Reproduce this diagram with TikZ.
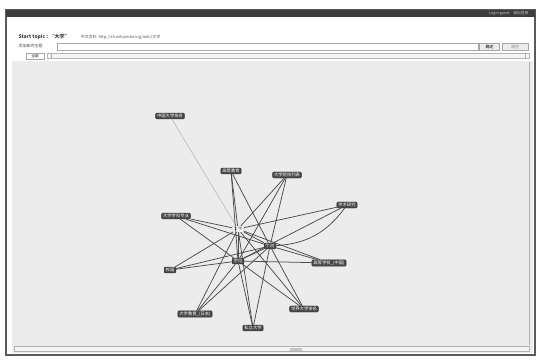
\documentclass[tikz,border=0pt]{standalone}
\usepackage{fontspec}
\setmainfont{Liberation Sans}
\newfontfamily\cjk{Noto Sans CJK SC}
\usetikzlibrary{positioning}

\definecolor{barra}{RGB}{62,62,62}
\definecolor{telaio}{RGB}{90,90,90}
\definecolor{sfondo}{RGB}{236,236,236}
\definecolor{nodo}{RGB}{70,70,70}
\definecolor{arco}{RGB}{75,75,75}

\begin{document}
\begin{tikzpicture}[x=1pt, y=-1pt, >=latex]
	% Stili comuni per i nodi del grafo
	\tikzset{
		topic/.style={
			draw=black!80,
			fill=nodo,
			text=white,
			rounded corners=1pt,
			inner xsep=1.5pt,
			inner ysep=1pt,
			font=\cjk\fontsize{4.3}{4.5}\selectfont
		},
		root/.style={
			topic,
			draw=gray!60,
			fill=white,
			text=black!70
		},
		link/.style={arco, line width=0.75pt},
		faint/.style={gray!60, line width=0.5pt},
		btn/.style={
			draw=gray!70,
			fill=gray!15,
			minimum height=7pt,
			inner sep=0pt,
			font=\cjk\fontsize{4}{4.5}\selectfont
		}
	}

	\useasboundingbox (0,0) rectangle (542,361);
	\fill[white] (0,0) rectangle (542,361);

	% Finestra e barra superiore
	\fill[sfondo] (12,61) rectangle (533,353);
	\draw[telaio, line width=1.2pt] (6,10) rectangle (535,355);
	\fill[barra] (6,10) rectangle (535,17);
	\node[text=gray!45, anchor=east, font=\cjk\fontsize{3.8}{4}\selectfont] (login) at (532,13.5) {Login guest\quad 退出登录};

	% Titolo e ricerca
	\node[anchor=west, text=black!75, font=\cjk\fontsize{5}{6}\selectfont] (title) at (15,37) {\textbf{Start topic : “大学”}};
	\node[right=4pt of title, text=black!65, font=\cjk\fontsize{4}{4.5}\selectfont] (source) {中文百科\ \ http://zh.wikipedia.org/wiki/大学};
	\node[anchor=west, text=black!70, font=\cjk\fontsize{4}{4.5}\selectfont] (addlabel) at (15,46) {添加新的主题};
	\node[draw=gray!70, fill=white, minimum width=421pt, minimum height=7pt, inner sep=0pt, anchor=west] (search) at (57,46.5) {};
	\node[btn, minimum width=20pt, right=1pt of search] (ok) {确定};
	\node[btn, minimum width=26pt, right=2pt of ok, text=gray] (clear) {清空};

	% Cursore e barra di scorrimento
	\node[draw=gray!70, fill=white, minimum width=18pt, minimum height=6pt, inner sep=0pt, font=\cjk\fontsize{3.5}{4}\selectfont] (all) at (35,56) {全部};
	\node[draw=gray!60, fill=gray!8, minimum width=482pt, minimum height=5pt, inner sep=0pt, anchor=west] (slider) at (47,56) {};
	\draw[gray!60] (slider.west) ++(4,-2.5) -- ++(0,5);
	\draw[gray!60] (slider.east) ++(-4,-2.5) -- ++(0,5);
	\node[draw=gray!60, fill=gray!8, minimum width=515pt, minimum height=5pt, inner sep=0pt] (hscroll) at (272,349) {};
	\node[fill=gray!45, minimum width=12pt, minimum height=3pt, inner sep=0pt] (thumb) at (296,349) {};
	\draw[gray!60] (529,62) -- (529,345);

	% Nodi del grafo
	\node[topic] (rank) at (170,116) {中国大学排名};
	\node[topic] (edu) at (231,171) {高等教育};
	\node[topic] (list) at (287,175) {大学院校列表};
	\node[topic] (res) at (347,205) {学术研究};
	\node[topic] (subj) at (176,216) {大学学科专业};
	\node[topic] (coll) at (270,246) {学院};
	\node[topic] (deg) at (238,261) {学位};
	\node[topic] (camp) at (170,270) {校园};
	\node[topic] (china) at (329,263) {高等学校\_(中国)};
	\node[topic] (world) at (304,309) {世界大学排名};
	\node[topic] (japan) at (195,314) {大学教育\_(日本)};
	\node[topic] (priv) at (253,328) {私立大学};
	\node[root] (univ) at (238,229) {大学};

	% Archi
	\draw[faint] (rank) -- (univ);
	\foreach \a in {edu,list,subj,camp,china,world,japan,priv}
		\foreach \b in {univ,coll,deg}
			\draw[link] (\a) -- (\b);
	\draw[link] (res) -- (univ);
	\draw[link] (res) -- (deg);
	\draw[link] (res) to[bend left=25] (coll);
	\draw[link] (univ) -- (coll);
	\draw[link] (univ) -- (deg);
	\draw[link] (coll) -- (deg);
\end{tikzpicture}
\end{document}
